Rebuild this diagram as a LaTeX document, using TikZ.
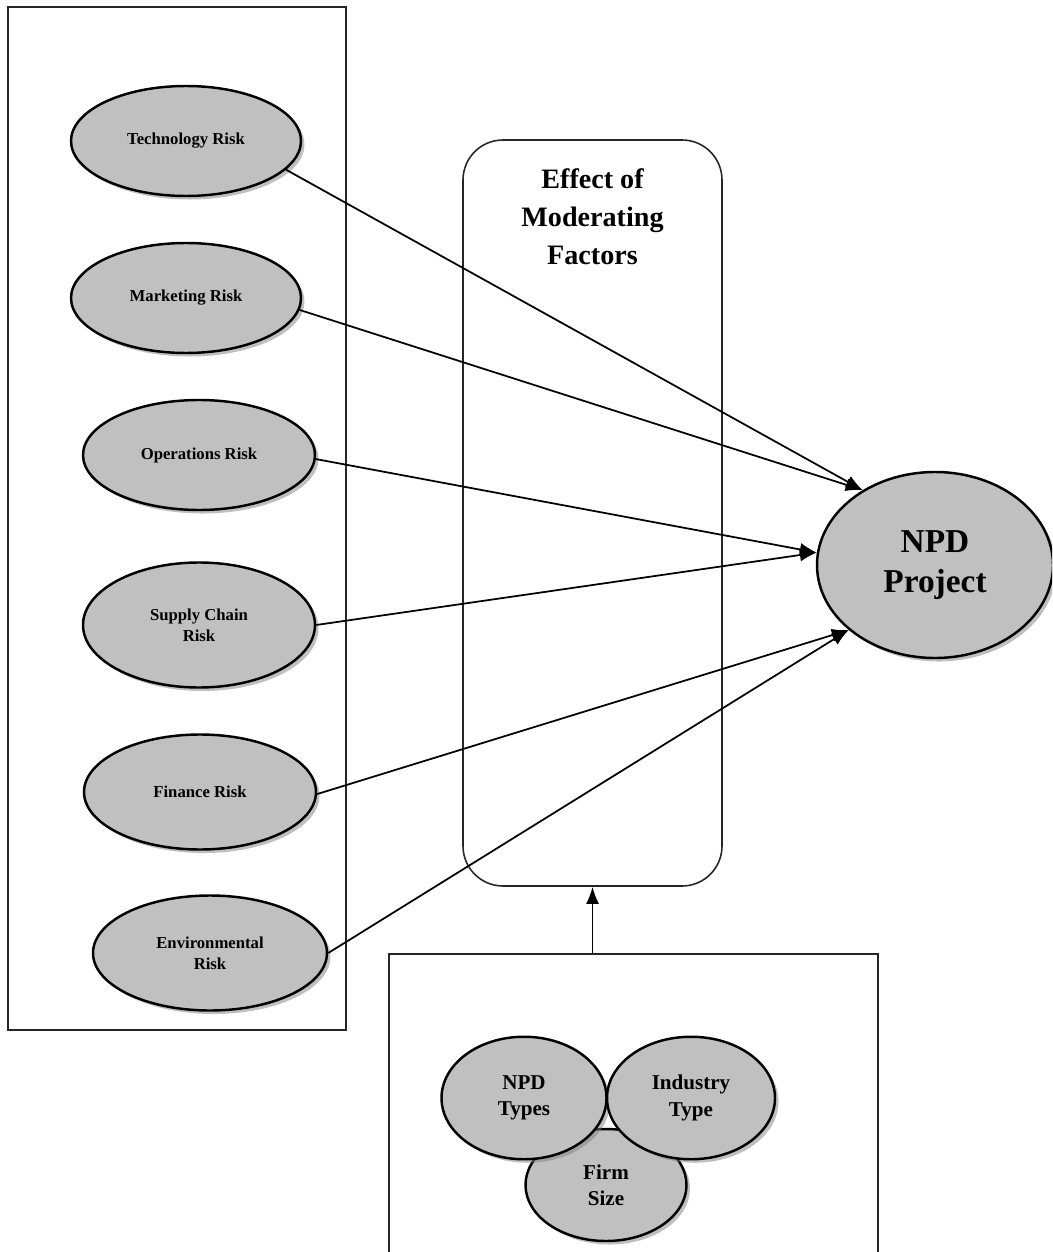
\documentclass[tikz,border=0pt]{standalone}
\usepackage{fontspec}
\setmainfont{Liberation Serif}
\usepackage{xcolor}
\usepackage{tikz}
\usetikzlibrary{arrows.meta, positioning, shapes.geometric, shadows}
\definecolor{ovalGray}{RGB}{192,192,192}
\begin{document}
\begin{tikzpicture}[
  oval/.style={ellipse, draw=black, line width=1.4pt, fill=ovalGray, inner sep=0pt, align=center, font=\bfseries,
    drop shadow={shadow xshift=2pt, shadow yshift=-2pt, fill=black!50, opacity=0.5}},
  riskOval/.style={oval, minimum width=4.6cm, minimum height=2.2cm, font=\bfseries\fontsize{9.5}{12}\selectfont},
  factorOval/.style={oval, minimum width=3.3cm, minimum height=2.45cm, font=\bfseries\fontsize{12}{15}\selectfont},
  frame/.style={rectangle, draw=black!85, line width=0.7pt, inner sep=0pt},
  arrow/.style={-{Latex[length=3.4mm, width=2.6mm]}, line width=1pt, black}
]
\useasboundingbox (0,0) rectangle (21.04,-25.04);
\clip (0,0) rectangle (21.04,-25.04);
\node[frame, minimum width=6.76cm, minimum height=20.46cm] (riskbox) at (3.54,-10.37) {};
\node[riskOval] (tech) at (3.72,-2.82) {Technology Risk};
\node[riskOval] (mkt) at (3.72,-5.96) {Marketing Risk};
\node[riskOval, minimum width=4.64cm] (ops) at (3.98,-9.10) {Operations Risk};
\node[riskOval, minimum width=4.64cm, minimum height=2.5cm] (supply) at (3.98,-12.5) {Supply Chain\\Risk};
\node[riskOval, minimum width=4.64cm, minimum height=2.3cm] (fin) at (4.0,-15.84) {Finance Risk};
\node[riskOval, minimum width=4.68cm, minimum height=2.3cm] (env) at (4.2,-19.06) {Environmental\\Risk};
\node[frame, rounded corners=0.8cm, line width=0.9pt, minimum width=5.18cm, minimum height=14.92cm] (mod) at (11.85,-10.26) {};
\node[align=center, font=\bfseries\fontsize{16}{21.5}\selectfont] (modtitle) at (11.85,-4.34) {Effect of\\Moderating\\Factors};
\node[oval, minimum width=4.72cm, minimum height=3.72cm, font=\bfseries\fontsize{19}{23}\selectfont] (npd) at (18.7,-11.3) {NPD\\Project};
\node[frame, line width=0.9pt, minimum width=9.78cm, minimum height=6.52cm] (factors) at (12.67,-22.34) {};
\node[factorOval, minimum width=3.22cm, minimum height=2.24cm] (firm) at (12.12,-23.7) {Firm\\Size};
\node[factorOval] (types) at (10.48,-21.96) {NPD\\Types};
\node[factorOval, minimum width=3.36cm] (industry) at (13.82,-21.96) {Industry\\Type};
\draw[arrow] (tech.-16) -- (npd.134);
\draw[arrow] (mkt.-6) -- (npd.134);
\draw[arrow] (ops.-2) -- (npd.174);
\draw[arrow] (supply.0) -- (npd.174);
\draw[arrow] (fin.-1) -- (npd.217);
\draw[arrow] (env.0) -- (npd.217);
\draw[arrow] (factors.north -| mod.south) -- (mod.south);
\end{tikzpicture}
\end{document}
